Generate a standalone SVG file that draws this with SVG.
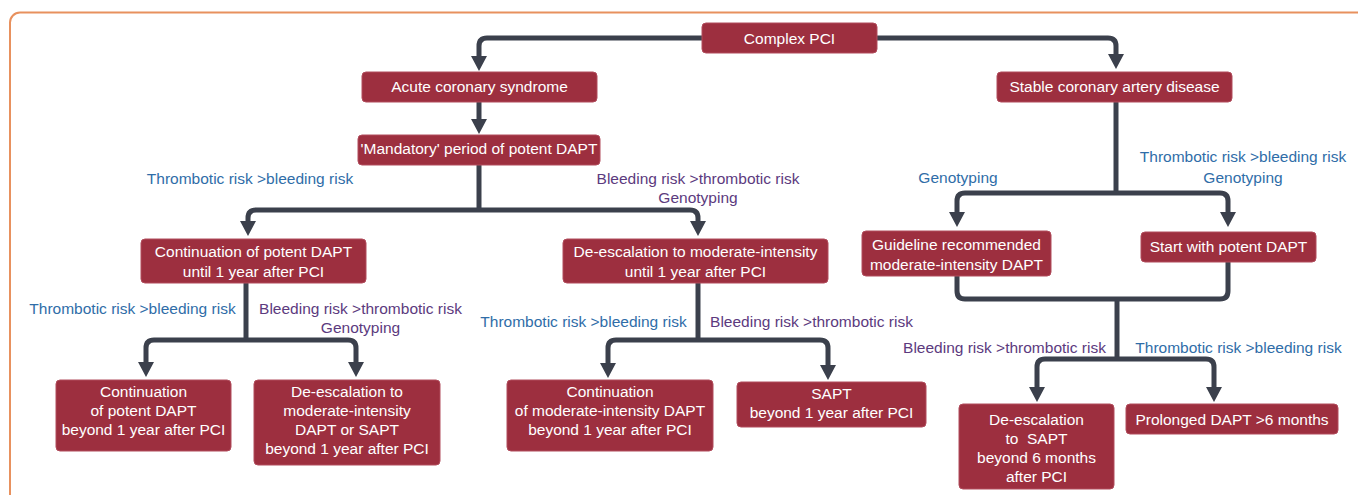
<svg xmlns="http://www.w3.org/2000/svg" width="1358" height="495" viewBox="0 0 1358 495">
<defs>
<style>
.box{fill:#9D2F3F;stroke:#B14C5C;stroke-width:1}
.nt{font-family:"Liberation Sans",Arial,sans-serif;font-size:15.5px;fill:#ffffff;text-anchor:middle}
.lb{font-family:"Liberation Sans",Arial,sans-serif;font-size:15.5px;text-anchor:middle}
.blue{fill:#2F6DA8}
.purple{fill:#5C3A7E}
.ln{fill:none;stroke:#3B404C;stroke-width:5;stroke-linejoin:round}
.ar{marker-end:url(#ah)}
</style>
<marker id="ah" markerUnits="userSpaceOnUse" viewBox="0 0 15 16" refX="0" refY="8" markerWidth="15" markerHeight="16" orient="auto">
<path d="M0,0 L15,8 L0,16 Z" fill="#3B404C"/>
</marker>
</defs>
<rect x="10" y="12.5" width="1420" height="520" rx="10" ry="10" fill="#ffffff" stroke="#E8915E" stroke-width="2"/>

<g id="connectors">
<path class="ln ar" d="M702,38 H487 Q479,38 479,46 V56"/>
<path class="ln ar" d="M877,38 H1108 Q1116,38 1116,46 V54"/>
<path class="ln ar" d="M479,102 V119"/>
<path class="ln" d="M479,165 V210"/>
<path class="ln ar" d="M479,210 H256 Q248,210 248,218 V221"/>
<path class="ln ar" d="M479,210 H690 Q698,210 698,218 V221"/>
<path class="ln" d="M246,283 V340"/>
<path class="ln ar" d="M246,340 H154 Q146,340 146,348 V362"/>
<path class="ln ar" d="M246,340 H348 Q356,340 356,348 V362"/>
<path class="ln" d="M698,283 V340"/>
<path class="ln ar" d="M698,340 H616 Q608,340 608,348 V363"/>
<path class="ln ar" d="M698,340 H820 Q828,340 828,348 V365"/>
<path class="ln" d="M1116,102 V193"/>
<path class="ln ar" d="M1116,193 H965 Q957,193 957,201 V212"/>
<path class="ln ar" d="M1116,193 H1220 Q1228,193 1228,201 V212"/>
<path class="ln" d="M957,275 V291 Q957,299 965,299 H1220 Q1228,299 1228,291 V262"/>
<path class="ln" d="M1117,299 V359"/>
<path class="ln ar" d="M1117,359 H1045 Q1037,359 1037,367 V387"/>
<path class="ln ar" d="M1117,359 H1206 Q1214,359 1214,367 V387"/>
</g>

<g id="n-complex">
<rect class="box" x="702" y="23" width="175" height="30" rx="4"/>
<text class="nt" x="789.5" y="44">Complex PCI</text>
</g>
<g id="n-acs">
<rect class="box" x="362" y="72" width="235" height="30" rx="4"/>
<text class="nt" x="479.5" y="92">Acute coronary syndrome</text>
</g>
<g id="n-mandatory">
<rect class="box" x="358" y="135" width="242" height="30" rx="4"/>
<text class="nt" x="479" y="154">'Mandatory' period of potent DAPT</text>
</g>
<g id="n-stable">
<rect class="box" x="997" y="72" width="235" height="30" rx="4"/>
<text class="nt" x="1114.5" y="92">Stable coronary artery disease</text>
</g>
<g id="n-cont-potent">
<rect class="box" x="141" y="239" width="225" height="44" rx="4"/>
<text class="nt" x="253.5" y="256.5">Continuation of potent DAPT</text>
<text class="nt" x="253.5" y="276.5">until 1 year after PCI</text>
</g>
<g id="n-deesc-mod">
<rect class="box" x="563" y="239" width="265" height="44" rx="4"/>
<text class="nt" x="695.5" y="256.5">De-escalation to moderate-intensity</text>
<text class="nt" x="695.5" y="276.5">until 1 year after PCI</text>
</g>
<g id="n-guideline">
<rect class="box" x="862" y="231" width="189" height="45" rx="4"/>
<text class="nt" x="956.5" y="250">Guideline recommended</text>
<text class="nt" x="956.5" y="269.5">moderate-intensity DAPT</text>
</g>
<g id="n-start-potent">
<rect class="box" x="1141" y="232" width="175" height="30" rx="4"/>
<text class="nt" x="1228.5" y="252">Start with potent DAPT</text>
</g>
<g id="n-cont-potent-beyond">
<rect class="box" x="56" y="380" width="175" height="71" rx="4"/>
<text class="nt" x="143.5" y="397">Continuation</text>
<text class="nt" x="143.5" y="416">of potent DAPT</text>
<text class="nt" x="143.5" y="435">beyond 1 year after PCI</text>
</g>
<g id="n-deesc-dapt-sapt">
<rect class="box" x="254" y="380" width="186" height="85" rx="4"/>
<text class="nt" x="347" y="397">De-escalation to</text>
<text class="nt" x="347" y="416">moderate-intensity</text>
<text class="nt" x="347" y="435">DAPT or SAPT</text>
<text class="nt" x="347" y="454">beyond 1 year after PCI</text>
</g>
<g id="n-cont-mod-beyond">
<rect class="box" x="507" y="380" width="206" height="71" rx="4"/>
<text class="nt" x="610" y="397">Continuation</text>
<text class="nt" x="610" y="416">of moderate-intensity DAPT</text>
<text class="nt" x="610" y="435">beyond 1 year after PCI</text>
</g>
<g id="n-sapt">
<rect class="box" x="737" y="382" width="189" height="45" rx="4"/>
<text class="nt" x="831.5" y="398.5">SAPT</text>
<text class="nt" x="831.5" y="418">beyond 1 year after PCI</text>
</g>
<g id="n-deesc-sapt6">
<rect class="box" x="959" y="404" width="155" height="85" rx="4"/>
<text class="nt" x="1036.5" y="425">De-escalation</text>
<text class="nt" x="1036.5" y="444" xml:space="preserve">to  SAPT</text>
<text class="nt" x="1036.5" y="463">beyond 6 months</text>
<text class="nt" x="1036.5" y="482">after PCI</text>
</g>
<g id="n-prolonged">
<rect class="box" x="1126" y="404" width="212" height="30" rx="4"/>
<text class="nt" x="1232" y="425">Prolonged DAPT &gt;6 months</text>
</g>

<g id="labels">
<text class="lb blue" x="250" y="184">Thrombotic risk &gt;bleeding risk</text>
<text class="lb purple" x="698" y="184">Bleeding risk &gt;thrombotic risk</text>
<text class="lb purple" x="698" y="202.5">Genotyping</text>
<text class="lb blue" x="958" y="182.5">Genotyping</text>
<text class="lb blue" x="1243" y="162">Thrombotic risk &gt;bleeding risk</text>
<text class="lb blue" x="1243" y="182.5">Genotyping</text>
<text class="lb blue" x="132.5" y="314">Thrombotic risk &gt;bleeding risk</text>
<text class="lb purple" x="360.5" y="314">Bleeding risk &gt;thrombotic risk</text>
<text class="lb purple" x="360.5" y="333">Genotyping</text>
<text class="lb blue" x="583.5" y="327">Thrombotic risk &gt;bleeding risk</text>
<text class="lb purple" x="811.5" y="327">Bleeding risk &gt;thrombotic risk</text>
<text class="lb purple" x="1004.5" y="353">Bleeding risk &gt;thrombotic risk</text>
<text class="lb blue" x="1238.5" y="353">Thrombotic risk &gt;bleeding risk</text>
</g>
</svg>
